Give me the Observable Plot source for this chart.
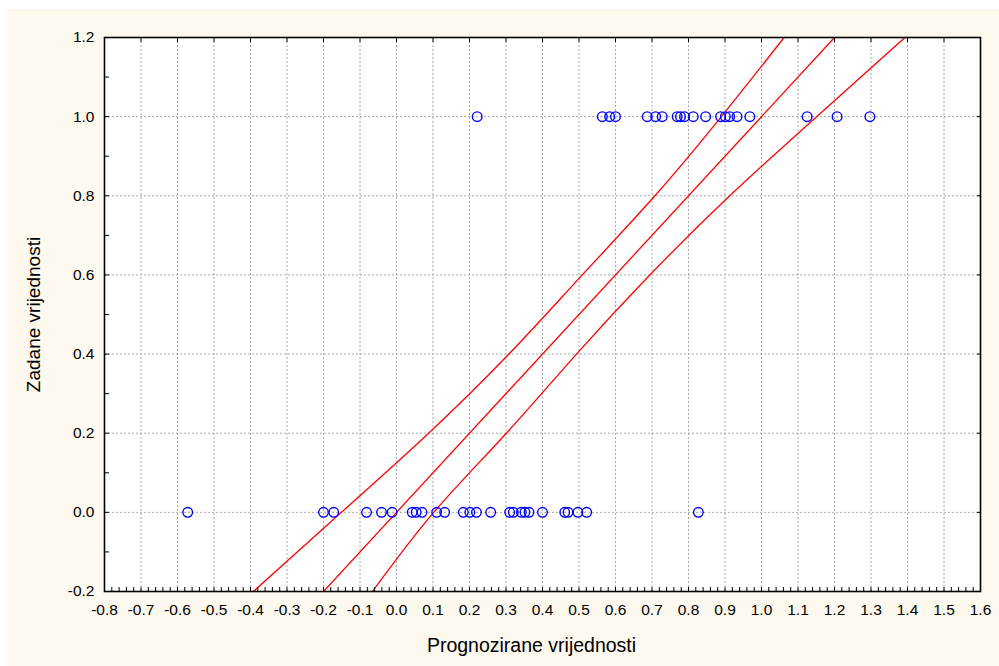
<!DOCTYPE html>
<html>
<head>
<meta charset="utf-8">
<script src="https://cdn.jsdelivr.net/npm/d3@7"></script>
<script src="https://cdn.jsdelivr.net/npm/@observablehq/plot@0.6"></script>
<style>
  html, body { margin: 0; padding: 0; background: #ffffff; }
  #wrap { padding-left: 7px; padding-top: 9px; width: 992px; height: 657px; }
</style>
</head>
<body>
<div id="wrap"></div>
<script>
// Observed value 0: predicted values
const predictedWhenZero = [-0.572, -0.200, -0.172, -0.082, -0.041, -0.012, 0.043, 0.054, 0.070,
  0.110, 0.132, 0.183, 0.201, 0.219, 0.258, 0.310, 0.320, 0.342, 0.352, 0.363, 0.400,
  0.461, 0.470, 0.497, 0.521, 0.827];
// Observed value 1: predicted values
const predictedWhenOne = [0.221, 0.564, 0.584, 0.600, 0.687, 0.710, 0.728, 0.769, 0.778, 0.789,
  0.813, 0.847, 0.888, 0.901, 0.913, 0.933, 0.968, 1.125, 1.207, 1.297];

// Regression line and 95% confidence band
const fitX = [-0.2, 1.2];
const fitY = [-0.2, 1.2];
const bandLevels = [-0.2, 0.0, 0.2, 0.4, 0.6, 0.8, 1.0, 1.2];
const upperBandX = [-0.392, -0.151, 0.088, 0.308, 0.509, 0.708, 0.890, 1.062];
const lowerBandX = [-0.066, 0.102, 0.301, 0.493, 0.694, 0.913, 1.151, 1.393];

// Tick labels
const xTickValues = [-0.8, -0.7, -0.6, -0.5, -0.4, -0.3, -0.2, -0.1, 0.0, 0.1, 0.2, 0.3,
  0.4, 0.5, 0.6, 0.7, 0.8, 0.9, 1.0, 1.1, 1.2, 1.3, 1.4, 1.5, 1.6];
const yTickValues = [-0.2, 0.0, 0.2, 0.4, 0.6, 0.8, 1.0, 1.2];
const xMinorTicks = d3.range(-40, 81).map(i => i / 50);
const yMinorTicks = d3.range(-2, 13).map(i => i / 10);

const xTitle = "Prognozirane vrijednosti";
const yTitle = "Zadane vrijednosti";

const points = [
  ...predictedWhenZero.map(p => ({x: p, y: 0})),
  ...predictedWhenOne.map(p => ({x: p, y: 1}))
];
const fit = fitX.map((x, i) => ({x, y: fitY[i]}));
const upper = bandLevels.map((y, i) => ({x: upperBandX[i], y}));
const lower = bandLevels.map((y, i) => ({x: lowerBandX[i], y}));

const fmt = d => (Math.abs(d) < 1e-9 ? 0 : d).toFixed(1);
const font = "'Liberation Sans', Arial, Helvetica, sans-serif";

const chart = Plot.plot({
  width: 992,
  height: 657,
  marginLeft: 97,
  marginRight: 19,
  marginTop: 28,
  marginBottom: 75,
  x: {domain: [-0.8, 1.6], axis: null},
  y: {domain: [-0.2, 1.2], axis: null},
  style: {background: "#fdf9ef", fontFamily: font, fontSize: "16px", color: "#000"},
  marks: [
    Plot.frame({fill: "#ffffff", stroke: null}),
    Plot.gridX(xTickValues, {stroke: "#a8a8a8", strokeOpacity: 1, strokeDasharray: "2,2", strokeWidth: 1}),
    Plot.gridY(yTickValues, {stroke: "#a8a8a8", strokeOpacity: 1, strokeDasharray: "2,2", strokeWidth: 1}),
    Plot.line(upper, {x: "x", y: "y", stroke: "#ff0000", strokeWidth: 1.3, curve: "natural", clip: true}),
    Plot.line(fit, {x: "x", y: "y", stroke: "#ff0000", strokeWidth: 1.3, clip: true}),
    Plot.line(lower, {x: "x", y: "y", stroke: "#ff0000", strokeWidth: 1.3, curve: "natural", clip: true}),
    Plot.dot(points, {x: "x", y: "y", r: 4.8, stroke: "#0000ff", strokeWidth: 1.4, fill: "none"}),
    // minor/major inward ticks
    Plot.axisX(xMinorTicks, {anchor: "bottom", tickSize: -4, tickFormat: () => "", label: null, strokeWidth: 1}),
    Plot.axisX(xTickValues, {anchor: "top", tickSize: -4, tickFormat: () => "", label: null, strokeWidth: 1}),
    Plot.axisY(yMinorTicks, {anchor: "left", tickSize: -5, tickFormat: () => "", label: null, strokeWidth: 1}),
    Plot.axisY(yTickValues, {anchor: "right", tickSize: -4, tickFormat: () => "", label: null, strokeWidth: 1}),
    // tick labels
    Plot.text(xTickValues, {x: d => d, text: fmt, frameAnchor: "bottom", lineAnchor: "top", dy: 12,
      textAnchor: "middle", fontSize: 15.5, fill: "#000", ariaLabel: "xticklabels"}),
    Plot.text(yTickValues, {y: d => d, text: fmt, frameAnchor: "left", lineAnchor: "middle", dx: -10,
      textAnchor: "end", fontSize: 15.5, fill: "#000", ariaLabel: "yticklabels"}),
    // axis titles
    Plot.text([xTitle], {text: d => d, frameAnchor: "bottom", textAnchor: "middle", dx: -11, dy: 60, fontSize: 19.5, fill: "#000"}),
    Plot.text([yTitle], {text: d => d, frameAnchor: "left", textAnchor: "middle", rotate: -90, dx: -71, fontSize: 19, fill: "#000"}),
    Plot.frame({stroke: "#000", strokeWidth: 1.6})
  ]
});
d3.select(chart).selectAll('g[aria-label="xticklabels"] text, g[aria-label="yticklabels"] text')
  .style("letter-spacing", "0.7px");
document.getElementById("wrap").appendChild(chart);
</script>
</body>
</html>
